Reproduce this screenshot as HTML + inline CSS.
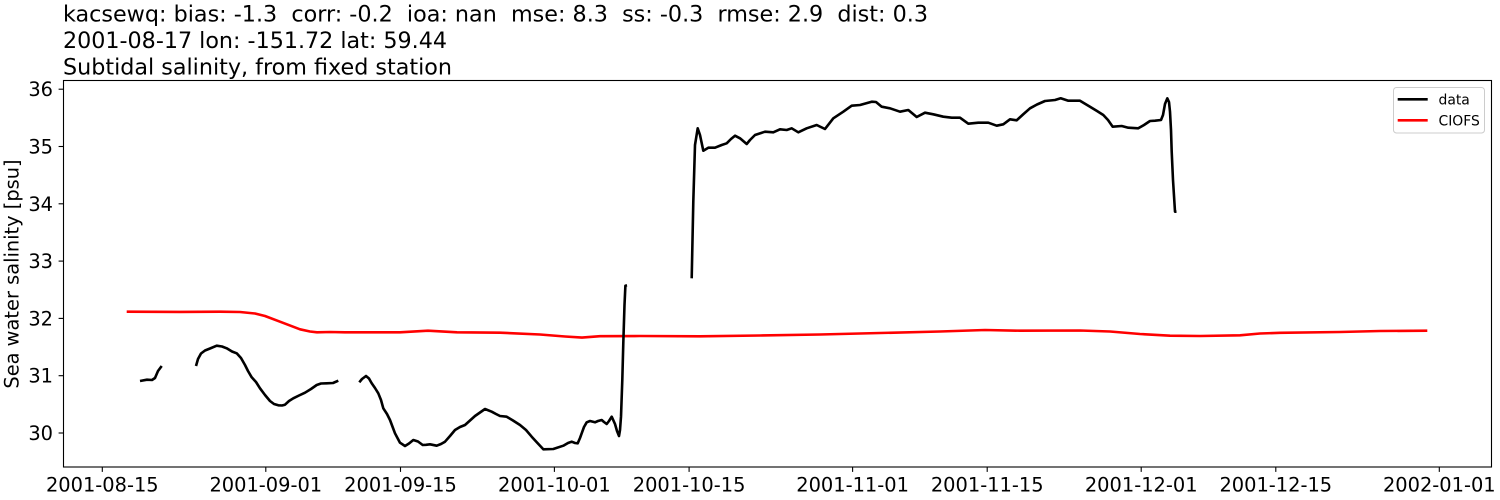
<!DOCTYPE html>
<html>
<head>
<meta charset="utf-8">
<style>
html,body{margin:0;padding:0;background:#fff;}
svg{display:block;}
text{font-family:"DejaVu Sans","Liberation Sans",sans-serif;fill:#000;}
</style>
</head>
<body>
<svg width="1500" height="500" viewBox="0 0 1500 500" xmlns="http://www.w3.org/2000/svg">
<rect x="0" y="0" width="1500" height="500" fill="#fff"/>

<!-- titles -->
<text x="63" y="21.7" font-size="22.2" textLength="865" lengthAdjust="spacingAndGlyphs" style="white-space:pre">kacsewq: bias: -1.3  corr: -0.2  ioa: nan  mse: 8.3  ss: -0.3  rmse: 2.9  dist: 0.3</text>
<text x="63" y="48.2" font-size="22.2" textLength="384" lengthAdjust="spacingAndGlyphs" style="white-space:pre">2001-08-17 lon: -151.72 lat: 59.44</text>
<text x="63" y="74.5" font-size="22.2" textLength="389" lengthAdjust="spacingAndGlyphs" style="white-space:pre">Subtidal salinity, from fixed station</text>

<!-- series -->
<g fill="none" stroke-linejoin="round" stroke-linecap="butt" stroke-width="2.6">
<path stroke="#ff0000" d="M126.7,311.7 L180,311.9 L220,311.7 L240,312 L255,313.5 L265,316 L280,321.7 L300,329.3 L310,331.5 L317,332.3 L330,332 L345,332.3 L400,332.3 L428,330.7 L457,332.3 L500,332.7 L540,334.5 L565,336.5 L582,337.6 L600,336.2 L640,336 L700,336.3 L760,335.5 L820,334.5 L880,333 L940,331.5 L985,330 L1020,330.7 L1080,330.5 L1110,331.5 L1140,334 L1170,335.7 L1200,336 L1240,335.3 L1260,333.5 L1280,332.8 L1340,332 L1380,331 L1427.3,330.7"/>
<path stroke="#000" d="M140,381 L147,379.7 L152,380 L155,378 L158,371 L161.7,366"/>
<path stroke="#000" d="M196,366 L198,359 L201,353.5 L205,350.5 L210,348.5 L216.7,345.7 L222,346.5 L226.7,348.3 L232,351.5 L236.7,353.3 L241,358 L245,365 L248,371 L251.7,377.3 L256,382 L260,388.3 L265,395 L270,401 L274,404 L278.3,405.3 L282,405.5 L285,404.7 L289,401 L293.3,398.3 L299,395.5 L305,392.7 L311,389 L316.7,385 L321,383.5 L326.7,383.3 L333,383 L338.3,380.7"/>
<path stroke="#000" d="M359.3,382.3 L362,379 L366,376 L369,378.5 L371.7,383.3 L375,388 L378.3,393.3 L381,400 L383.3,408.3 L387,414 L390,420 L393,428 L395,433.3 L398,439 L400,442.7 L405,446 L409,443.5 L413.3,440 L418,441.5 L422.7,445 L426,444.8 L430,444.3 L436.7,445.7 L441,444 L445,441.7 L450,436 L455,430 L460,427 L465,425 L470,420.5 L475,416 L480,412.5 L485,409 L491.7,411.7 L496,414 L500,416 L506.7,416.7 L513,420.5 L520,425 L526,430 L531.7,436.7 L537,442.5 L543.3,449.3 L553.3,449 L563.3,445.7 L568,443 L571.7,441.7 L575,443 L577.7,443.3 L580,438 L581.7,433.3 L584,427 L586.7,422.3 L590,421 L595,422.3 L598,421 L601.7,420 L604,422 L606.7,424 L609,421 L611.7,416.7 L615,424 L617,431 L619,436 L620,430 L621,416.7 L622.3,380 L623.3,343 L624.5,305 L625.4,285.7 L627,285.3"/>
<path stroke="#000" d="M691.7,278.3 L693.3,201.7 L695,145 L697.7,128.3 L700,135 L703.3,150.7 L708.3,147.7 L715,147.7 L721.7,145 L726.7,143.3 L731,139 L735,135.7 L740,138.3 L746.7,144 L750,140 L755,135 L765,131.7 L773.3,132.3 L780,129.3 L786.7,130 L791.7,128.3 L798.3,132.3 L806.7,128.3 L816.7,125 L825,129 L833.3,118.3 L843.3,111.7 L851.7,105.7 L860,105 L871.7,101.7 L876,102 L881.7,106.7 L890,108.3 L900,111.7 L908.3,110 L916.7,117 L925,112.7 L933.3,114.3 L943.3,116.7 L951.7,117.7 L960,117.7 L968.3,123.7 L978.3,122.7 L988.3,122.7 L996.7,125.7 L1003.3,124.3 L1010,119.3 L1016.7,120.3 L1023,114.5 L1030,108.3 L1037,104.5 L1045,101 L1055,100 L1060.7,98.3 L1068.3,100.7 L1080,100.7 L1090,106.7 L1097,111 L1103.3,115 L1108,120 L1112.7,126.7 L1121.7,126 L1128.3,127.7 L1138.3,128.3 L1144,125 L1150,121 L1155,120.7 L1161,120 L1163,115 L1165,104 L1167.3,98.3 L1169,102 L1170,111.7 L1171,130 L1171.7,151.7 L1173,180 L1175,211.7 L1176.5,211.7"/>
</g>

<!-- axes frame -->
<rect x="63.5" y="80.5" width="1428" height="386.5" fill="none" stroke="#000" stroke-width="1.1"/>

<!-- y ticks -->
<g stroke="#000" stroke-width="1.1">
<line x1="58.6" y1="89.2" x2="63.5" y2="89.2"/>
<line x1="58.6" y1="146.5" x2="63.5" y2="146.5"/>
<line x1="58.6" y1="203.8" x2="63.5" y2="203.8"/>
<line x1="58.6" y1="261.1" x2="63.5" y2="261.1"/>
<line x1="58.6" y1="318.4" x2="63.5" y2="318.4"/>
<line x1="58.6" y1="375.7" x2="63.5" y2="375.7"/>
<line x1="58.6" y1="433" x2="63.5" y2="433"/>
</g>
<g font-size="19.4" text-anchor="end">
<text x="53" y="96.2">36</text>
<text x="53" y="153.5">35</text>
<text x="53" y="210.8">34</text>
<text x="53" y="268.1">33</text>
<text x="53" y="325.4">32</text>
<text x="53" y="382.7">31</text>
<text x="53" y="440">30</text>
</g>

<!-- x ticks -->
<g stroke="#000" stroke-width="1.1">
<line x1="102.3" y1="467" x2="102.3" y2="471.9"/>
<line x1="265.8" y1="467" x2="265.8" y2="471.9"/>
<line x1="400.5" y1="467" x2="400.5" y2="471.9"/>
<line x1="554.4" y1="467" x2="554.4" y2="471.9"/>
<line x1="689.1" y1="467" x2="689.1" y2="471.9"/>
<line x1="852.6" y1="467" x2="852.6" y2="471.9"/>
<line x1="987.2" y1="467" x2="987.2" y2="471.9"/>
<line x1="1141.2" y1="467" x2="1141.2" y2="471.9"/>
<line x1="1275.8" y1="467" x2="1275.8" y2="471.9"/>
<line x1="1439.3" y1="467" x2="1439.3" y2="471.9"/>
</g>
<g font-size="19.4" text-anchor="middle">
<text x="102.3" y="491.5">2001-08-15</text>
<text x="265.8" y="491.5">2001-09-01</text>
<text x="400.5" y="491.5">2001-09-15</text>
<text x="554.4" y="491.5">2001-10-01</text>
<text x="689.1" y="491.5">2001-10-15</text>
<text x="852.6" y="491.5">2001-11-01</text>
<text x="987.2" y="491.5">2001-11-15</text>
<text x="1141.2" y="491.5">2001-12-01</text>
<text x="1275.8" y="491.5">2001-12-15</text>
<text x="1439.3" y="491.5">2002-01-01</text>
</g>

<!-- y label -->
<text x="0" y="0" font-size="19.4" text-anchor="middle" transform="translate(18.5,274) rotate(-90)">Sea water salinity [psu]</text>

<!-- legend -->
<rect x="1393.5" y="87.5" width="91" height="45.5" rx="3" ry="3" fill="#fff" fill-opacity="0.8" stroke="#cccccc" stroke-width="1"/>
<line x1="1397.7" y1="99.3" x2="1427.7" y2="99.3" stroke="#000" stroke-width="2.6"/>
<line x1="1397.7" y1="120.3" x2="1427.7" y2="120.3" stroke="#ff0000" stroke-width="2.6"/>
<text x="1438.5" y="104.5" font-size="13.9">data</text>
<text x="1438.5" y="125.5" font-size="13.9">CIOFS</text>
</svg>
</body>
</html>
